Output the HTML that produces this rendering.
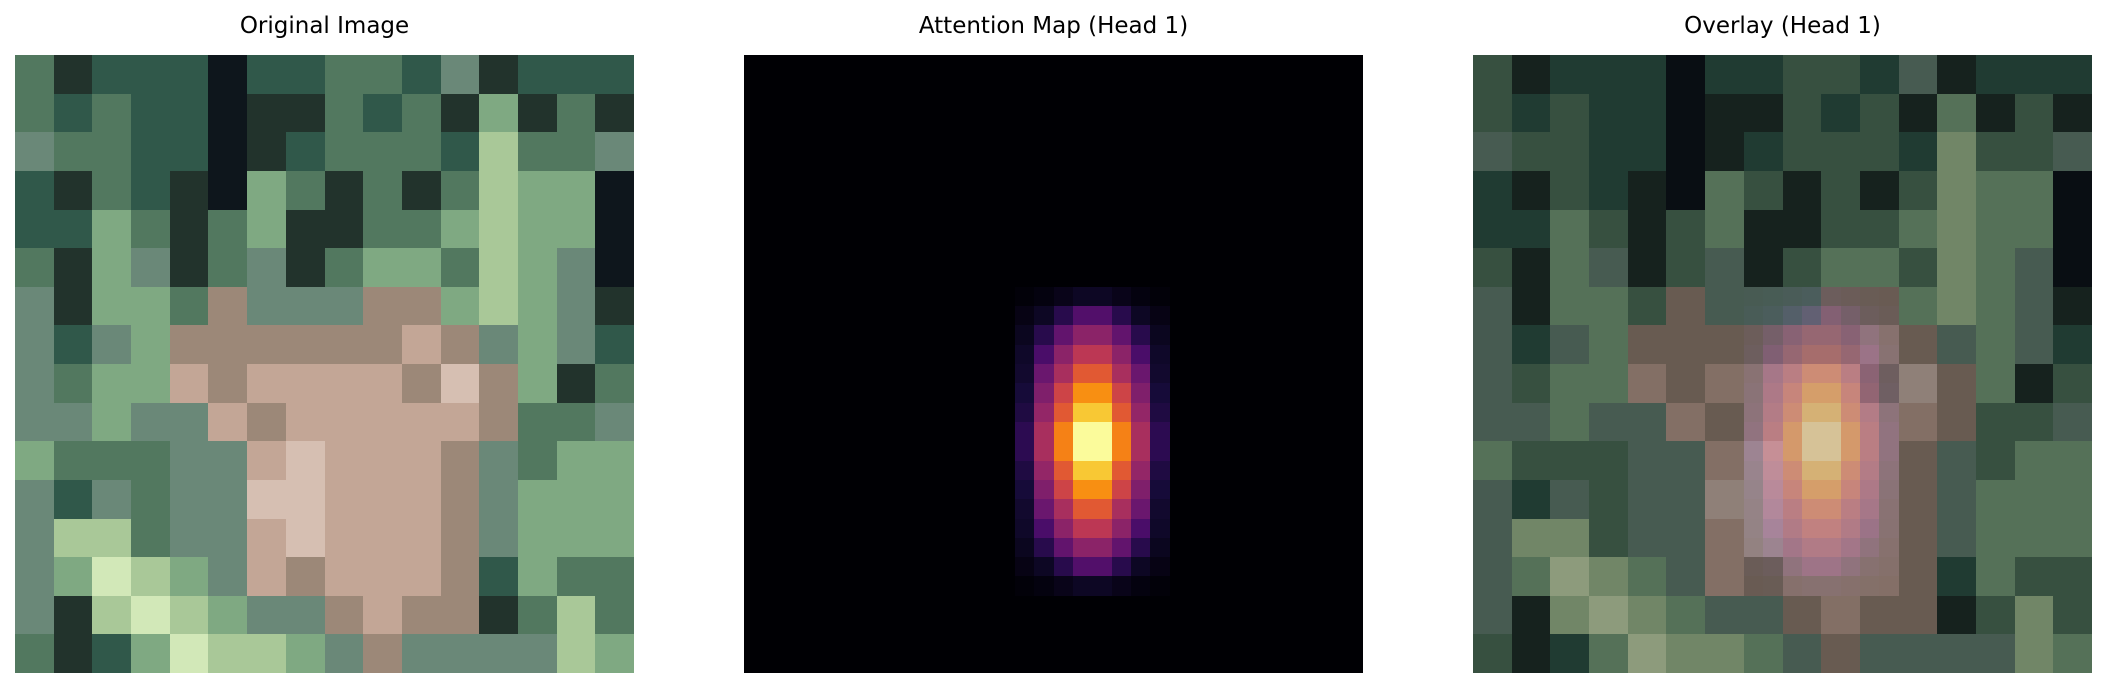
<!DOCTYPE html>
<html><head><meta charset="utf-8"><style>
html,body{margin:0;padding:0;background:#fff;}
svg{display:block;}
text{font-family:"DejaVu Sans","Liberation Sans",sans-serif;font-size:23px;fill:#000;}
rect{shape-rendering:crispEdges;}
</style></head><body>
<svg id="fig" width="2106" height="688" viewBox="0 0 2106 688" xmlns="http://www.w3.org/2000/svg">
<text x="324.5" y="33" text-anchor="middle">Original Image</text>
<text x="1053.5" y="33" text-anchor="middle">Attention Map (Head 1)</text>
<text x="1782.5" y="33" text-anchor="middle">Overlay (Head 1)</text>
<g id="p1"></g>
<g id="p2"></g>
<g id="p3"></g>
</svg>
<script>
// Original image approximated as 16x16 blocks (palette codes)
const palette = {a:'#22332c',b:'#30584a',c:'#52785f',d:'#7fa982',e:'#a9c898',f:'#d2e8b8',g:'#9c8878',h:'#c3a696',i:'#d6bfb2',k:'#6a8878',n:'#0e161c'};
const imageRows = [
"cabbbnbbccbkabbb",
"cbcbbnaacbcadaca",
"kccbbnabcccbecck",
"bacbandcacaceddn",
"bbdcacdaaccdeddn",
"cadkackacddcedkn",
"kaddcgkkkggdedka",
"kbkdgggggghgkdkb",
"kcddhghhhhgigdac",
"kkdkkhghhhhhgcck",
"dccckkhihhhgkcdd",
"kbkckkiihhhgkddd",
"keeckkhihhhgkddd",
"kdfedkhghhhgbdcc",
"kaefedkkghggacec",
"cabdfeedkgkkkked"
];
// Attention values: rows 12..27, cols 14..21 of a 32x32 grid (all else 0)
const attnRowStart = 12;
const attnColStart = 14;
const attnValues = [
[0.01,0.02,0.04,0.06,0.06,0.04,0.02,0.01],
[0.03,0.06,0.14,0.24,0.24,0.14,0.06,0.03],
[0.05,0.14,0.28,0.38,0.38,0.28,0.14,0.05],
[0.07,0.22,0.38,0.50,0.50,0.38,0.22,0.07],
[0.08,0.30,0.45,0.62,0.62,0.45,0.30,0.08],
[0.10,0.35,0.55,0.75,0.75,0.55,0.35,0.10],
[0.12,0.40,0.62,0.87,0.87,0.62,0.40,0.12],
[0.15,0.45,0.72,0.99,0.99,0.72,0.45,0.15],
[0.15,0.45,0.72,0.99,0.99,0.72,0.45,0.15],
[0.12,0.40,0.62,0.87,0.87,0.62,0.40,0.12],
[0.10,0.35,0.55,0.75,0.75,0.55,0.35,0.10],
[0.08,0.30,0.45,0.62,0.62,0.45,0.30,0.08],
[0.07,0.22,0.38,0.50,0.50,0.38,0.22,0.07],
[0.05,0.14,0.28,0.38,0.38,0.28,0.14,0.05],
[0.03,0.06,0.14,0.24,0.24,0.14,0.06,0.03],
[0.01,0.02,0.04,0.06,0.06,0.04,0.02,0.01]
];
const gridN = 32;
const overlayAlpha = 0.33;

const inferno = ['#000004','#160b39','#420a68','#6a176e','#932667','#bc3754','#dd513a','#f37819','#fca50a','#f6d746','#fcffa4'];
function hex2rgb(h){return [1,3,5].map(i=>parseInt(h.substr(i,2),16));}
function cmap(v){
  v=Math.max(0,Math.min(1,v));
  const p=v*10, i=Math.min(9,Math.floor(p)), t=p-i;
  const a=hex2rgb(inferno[i]), b=hex2rgb(inferno[i+1]);
  return 'rgb('+a.map((x,k)=>Math.round(x+(b[k]-x)*t)).join(',')+')';
}
function attnAt(r,c){
  const rr=r-attnRowStart, cc=c-attnColStart;
  if(rr<0||rr>=attnValues.length||cc<0||cc>=attnValues[0].length) return 0;
  return attnValues[rr][cc];
}
const NS='http://www.w3.org/2000/svg';
const panelY=55, panelW=619, panelH=618;
const panelX=[15,744,1473];
function rect(g,x1,y1,x2,y2,fill,op){
  const X1=Math.round(x1),Y1=Math.round(y1),X2=Math.round(x2),Y2=Math.round(y2);
  const r=document.createElementNS(NS,'rect');
  r.setAttribute('x',X1);r.setAttribute('y',Y1);
  r.setAttribute('width',X2-X1);r.setAttribute('height',Y2-Y1);
  r.setAttribute('fill',fill);
  if(op!==undefined) r.setAttribute('fill-opacity',op);
  
  
  g.appendChild(r);
}
function drawImage(g,x0){
  const n=imageRows.length, cw=panelW/n, ch=panelH/n;
  imageRows.forEach((row,r)=>{
    for(let c=0;c<row.length;c++) rect(g,x0+c*cw,panelY+r*ch,x0+(c+1)*cw,panelY+(r+1)*ch,palette[row[c]]);
  });
}
function drawAttn(g,x0,op){
  const cw=panelW/gridN, ch=panelH/gridN;
  for(let r=0;r<gridN;r++)for(let c=0;c<gridN;c++)
    rect(g,x0+c*cw,panelY+r*ch,x0+(c+1)*cw,panelY+(r+1)*ch,cmap(attnAt(r,c)),op);
}
drawImage(document.getElementById('p1'),panelX[0]);
drawAttn(document.getElementById('p2'),panelX[1]);
const p3=document.getElementById('p3');
drawImage(p3,panelX[2]);
drawAttn(p3,panelX[2],overlayAlpha);
</script>
</body></html>
